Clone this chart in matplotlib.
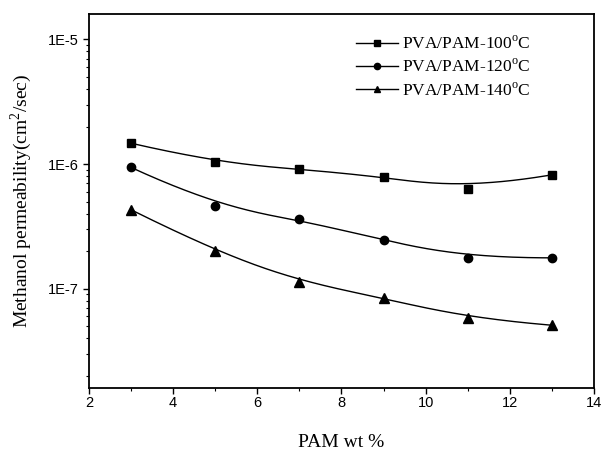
import numpy as np
import matplotlib.pyplot as plt
from matplotlib.lines import Line2D
from matplotlib.ticker import LogLocator, FixedLocator, MultipleLocator, FuncFormatter

# PAM content (wt %)
pam_wt = [3, 5, 7, 9, 11, 13]

# methanol permeability (cm^2/sec) for each crosslinking temperature
perm_100 = [1.47e-6, 1.03e-6, 9.1e-7, 7.9e-7, 6.3e-7, 8.2e-7]
perm_120 = [9.4e-7, 4.6e-7, 3.6e-7, 2.44e-7, 1.77e-7, 1.77e-7]
perm_140 = [4.3e-7, 1.99e-7, 1.13e-7, 8.5e-8, 5.8e-8, 5.1e-8]

labels = ['PVA/PAM-100$^{\\mathrm{o}}$C', 'PVA/PAM-120$^{\\mathrm{o}}$C', 'PVA/PAM-140$^{\\mathrm{o}}$C']
markers = ['s', 'o', '^']
marker_sizes = [5.5, 6.0, 7.0]


def bspline(px, py, n=300, k=3):
    '''
    Clamped cubic B-spline using the data points as control points
    (the smooth line, like Origin's B-spline option)
    '''
    P = np.column_stack([px, py]).astype(float)
    m = len(P)
    knots = np.concatenate([np.zeros(k), np.arange(m - k + 1), np.full(k, m - k)]).astype(float)
    t = np.linspace(0, m - k, n)
    t[-1] -= 1e-9
    # Cox-de Boor basis
    B = np.zeros((n, len(knots) - 1))
    for i in range(len(knots) - 1):
        B[:, i] = (t >= knots[i]) & (t < knots[i + 1])
    for d in range(1, k + 1):
        Bn = np.zeros((n, len(knots) - 1 - d))
        for i in range(len(knots) - 1 - d):
            left = knots[i + d] - knots[i]
            right = knots[i + d + 1] - knots[i + 1]
            a = (t - knots[i]) / left * B[:, i] if left > 0 else 0
            b = (knots[i + d + 1] - t) / right * B[:, i + 1] if right > 0 else 0
            Bn[:, i] = a + b
        B = Bn
    curve = B @ P
    return curve[:, 0], curve[:, 1]


plt.rcParams['font.family'] = 'Liberation Serif'
plt.rcParams['mathtext.fontset'] = 'custom'
plt.rcParams['mathtext.rm'] = 'Liberation Serif'

fig = plt.figure(figsize=(6.03, 4.5), dpi=100)
ax = fig.add_axes([0.1476, 0.1378, 0.8374, 0.8312])

handles = []
for series, m, ms, lab in zip([perm_100, perm_120, perm_140], markers, marker_sizes, labels):
    xs, ys = bspline(pam_wt, np.log10(series))
    ax.plot(xs, 10 ** ys, color='black', lw=1.0)
    ax.plot(pam_wt, series, linestyle='none', marker=m, color='black', ms=ms)
    handles.append(Line2D([], [], color='black', lw=1.0, marker=m, ms=4.5, label=lab))

ax.set_yscale('log')
ax.set_xlim(2, 14)
ax.set_ylim(1.6e-8, 1.6e-5)

ax.xaxis.set_major_locator(MultipleLocator(2))
ax.xaxis.set_minor_locator(MultipleLocator(1))
ax.yaxis.set_major_locator(FixedLocator([1e-7, 1e-6, 1e-5]))
ax.yaxis.set_minor_locator(LogLocator(base=10, subs=np.arange(2, 10)))
ax.yaxis.set_major_formatter(FuncFormatter(lambda v, p: '1E%d' % round(np.log10(v))))
ax.yaxis.set_minor_formatter(FuncFormatter(lambda v, p: ''))

ax.tick_params(which='major', direction='out', length=4, width=1.0, labelsize=10.5)
ax.tick_params(axis='x', which='major', pad=2)
ax.tick_params(which='minor', direction='out', length=2.5, width=0.8)
for lbl in ax.get_xticklabels() + ax.get_yticklabels():
    lbl.set_family('Liberation Sans')
for s in ax.spines.values():
    s.set_linewidth(1.3)

ax.set_xlabel('PAM wt %', fontsize=14, labelpad=17)
ax.set_ylabel('Methanol permeability(cm$^2$/sec)', fontsize=14, labelpad=10)

ax.legend(handles=handles, loc='upper right', bbox_to_anchor=(0.905, 0.985), frameon=False,
          fontsize=12.5, handlelength=2.4, handletextpad=0.25, labelspacing=0.35)

fig.savefig('out.png', dpi=100)
